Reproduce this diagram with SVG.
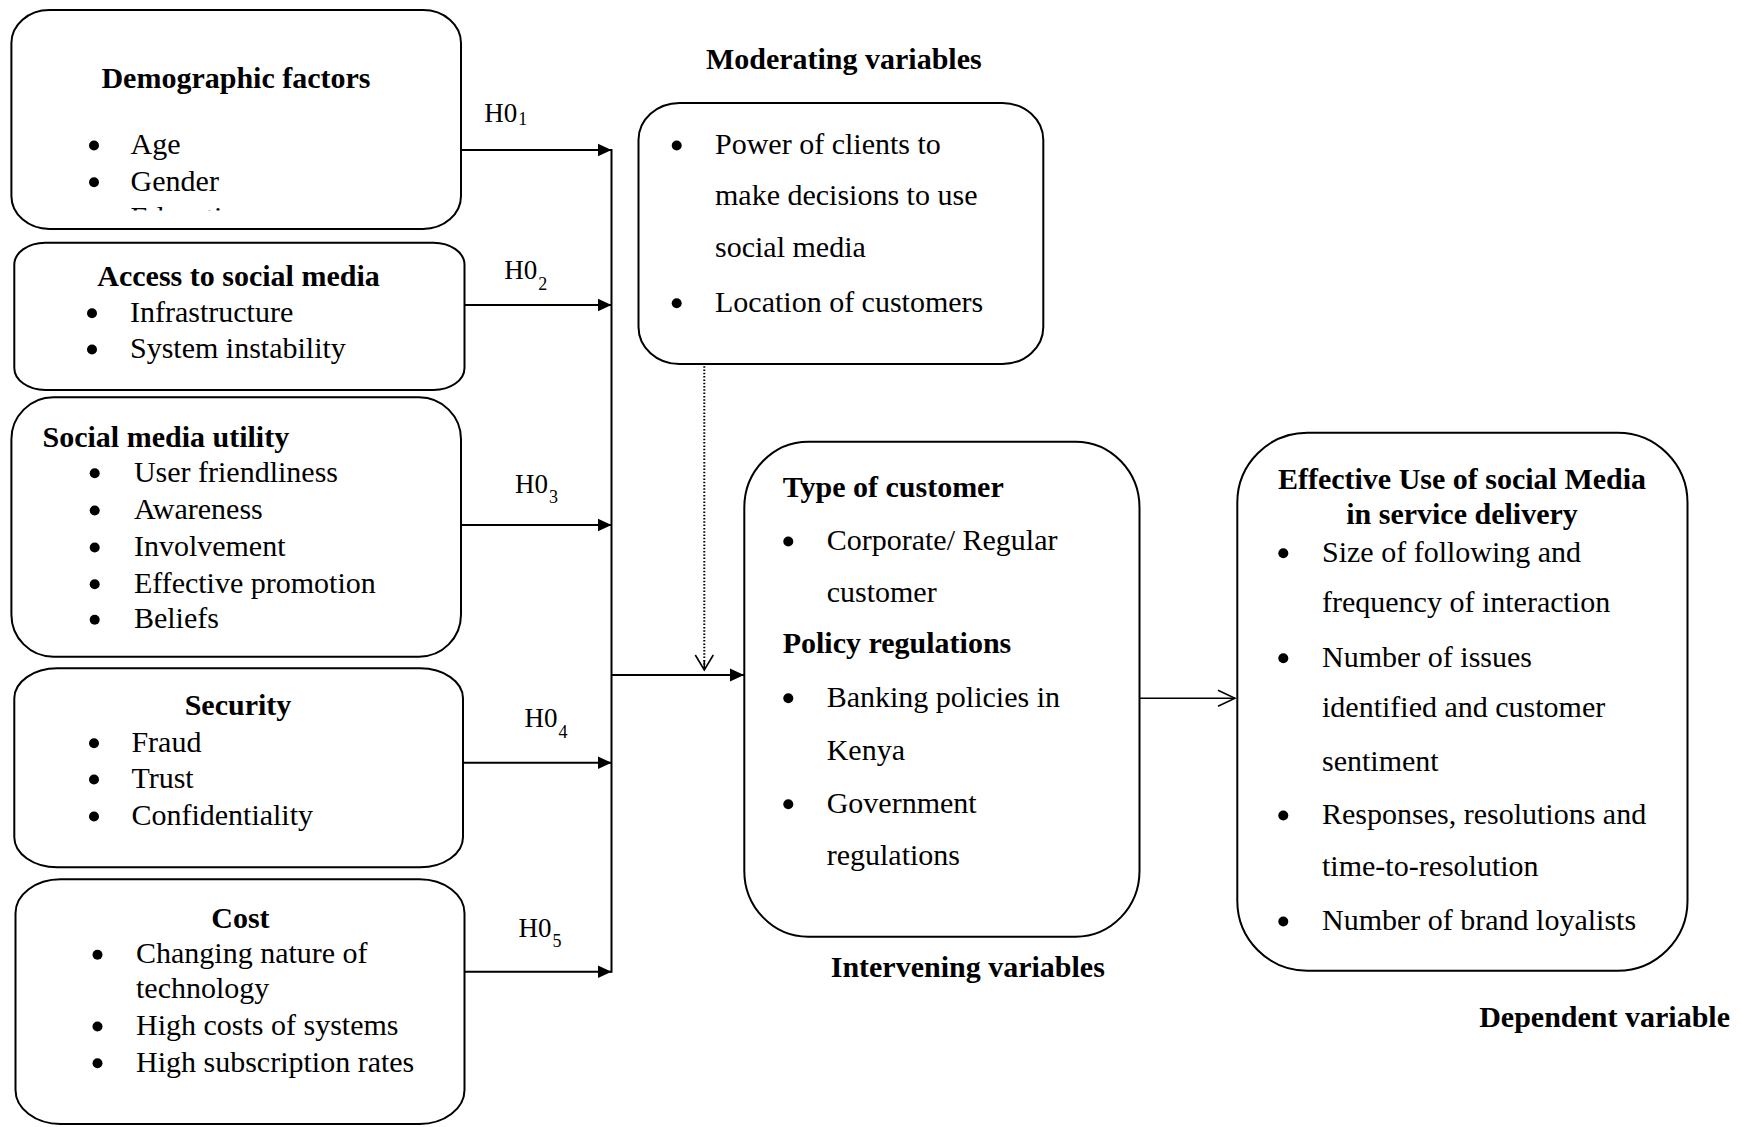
<svg xmlns="http://www.w3.org/2000/svg" width="1745" height="1127" viewBox="0 0 1745 1127">
<style>
  .box { fill: #fff; stroke: #000; stroke-width: 2; }
  .t { font-family: "Liberation Serif", "Times New Roman", serif; font-size: 30px; fill: #000; }
  .b { font-weight: bold; }
  .m { text-anchor: middle; }
  .e { text-anchor: end; }
  .h { font-family: "Liberation Serif", "Times New Roman", serif; font-size: 27px; fill: #000; }
  .s { font-size: 18px; }
  .dot { fill: #000; }
  .ln { fill: none; stroke: #000; stroke-width: 2; }
  .thin { fill: none; stroke: #000; stroke-width: 1.5; }
  .dotted { fill: none; stroke: #000; stroke-width: 2; stroke-dasharray: 1.5 1.8; }
</style>
<defs>
  <marker id="arrFill" markerUnits="userSpaceOnUse" markerWidth="16" markerHeight="16" refX="14" refY="7" orient="auto">
    <path d="M0,0.5 L14,7 L0,13.5 Z" fill="#000"/>
  </marker>
  <marker id="arrOpen" markerUnits="userSpaceOnUse" markerWidth="22" markerHeight="22" refX="18" refY="10" orient="auto">
    <path d="M1,2 L18,10 L1,18" fill="none" stroke="#000" stroke-width="1.5"/>
  </marker>
  <marker id="arrOpenV" markerUnits="userSpaceOnUse" markerWidth="22" markerHeight="24" refX="16" refY="10" orient="auto">
    <path d="M1,1 L16,10 L1,19" fill="none" stroke="#000" stroke-width="1.6"/>
  </marker>
  <clipPath id="clipDemo">
    <rect x="0" y="0" width="470" height="210.5"/>
  </clipPath>
</defs>
<rect width="1745" height="1127" fill="#fff"/>

<g id="connectors">
  <path class="ln" d="M461,150 H611.5" marker-end="url(#arrFill)"/>
  <path class="ln" d="M464.5,305 H611.5" marker-end="url(#arrFill)"/>
  <path class="ln" d="M461,525 H611.5" marker-end="url(#arrFill)"/>
  <path class="ln" d="M463,762.7 H611.5" marker-end="url(#arrFill)"/>
  <path class="ln" d="M464.5,971.7 H611.5" marker-end="url(#arrFill)"/>
  <path class="ln" d="M611.5,149 V972.7"/>
  <path class="ln" d="M611.5,675 H744" marker-end="url(#arrFill)"/>
  <path class="dotted" d="M704.3,353 V668"/>
  <path class="thin" d="M704.3,660 V670" marker-end="url(#arrOpenV)" stroke="none"/>
  <path class="thin" d="M1139.5,698.3 H1235" marker-end="url(#arrOpen)"/>
  <g id="hyp-labels">
    <text class="h" x="484.3" y="121.7">H0<tspan class="s" dx="1" y="124.5">1</tspan></text>
    <text class="h" x="504.3" y="279.3">H0<tspan class="s" dx="1" y="290">2</tspan></text>
    <text class="h" x="515" y="493.3">H0<tspan class="s" dx="1" y="503.3">3</tspan></text>
    <text class="h" x="524.5" y="727.3">H0<tspan class="s" dx="1" y="738.3">4</tspan></text>
    <text class="h" x="518.4" y="936.7">H0<tspan class="s" dx="1" y="946.7">5</tspan></text>
  </g>
</g>

<g id="demographic">
  <rect class="box" x="11.4" y="10" width="449.6" height="219" rx="38" ry="33"/>
  <text class="t b m" x="236" y="87.7">Demographic factors</text>
  <circle class="dot" cx="94" cy="145.5" r="5"/>
  <text class="t" x="130.6" y="154">Age</text>
  <circle class="dot" cx="94" cy="182.2" r="5"/>
  <text class="t" x="130.6" y="190.7">Gender</text>
  <g clip-path="url(#clipDemo)">
    <text class="t" x="130.6" y="227.3">Education</text>
  </g>
</g>

<g id="access">
  <rect class="box" x="14.3" y="242.7" width="450.2" height="147.3" rx="31" ry="22"/>
  <text class="t b m" x="238.5" y="286">Access to social media</text>
  <circle class="dot" cx="92" cy="313.2" r="5"/>
  <text class="t" x="130" y="321.7">Infrastructure</text>
  <circle class="dot" cx="92" cy="349.5" r="5"/>
  <text class="t" x="130" y="358">System instability</text>
</g>

<g id="utility">
  <rect class="box" x="11.4" y="397.3" width="449.6" height="259.4" rx="42" ry="42"/>
  <text class="t b" x="42.5" y="446.7">Social media utility</text>
  <circle class="dot" cx="94.7" cy="473.2" r="5"/>
  <text class="t" x="133.9" y="481.7">User friendliness</text>
  <circle class="dot" cx="94.7" cy="510.5" r="5"/>
  <text class="t" x="133.9" y="519">Awareness</text>
  <circle class="dot" cx="94.7" cy="547.5" r="5"/>
  <text class="t" x="133.9" y="556">Involvement</text>
  <circle class="dot" cx="94.7" cy="584.2" r="5"/>
  <text class="t" x="133.9" y="592.7">Effective promotion</text>
  <circle class="dot" cx="94.7" cy="619.8" r="5"/>
  <text class="t" x="133.9" y="628.3">Beliefs</text>
</g>

<g id="security">
  <rect class="box" x="14.3" y="668.3" width="448.7" height="199" rx="43" ry="30"/>
  <text class="t b m" x="238" y="715">Security</text>
  <circle class="dot" cx="94" cy="743.2" r="5"/>
  <text class="t" x="131.4" y="751.7">Fraud</text>
  <circle class="dot" cx="94" cy="779.5" r="5"/>
  <text class="t" x="131.4" y="788">Trust</text>
  <circle class="dot" cx="94" cy="816.5" r="5"/>
  <text class="t" x="131.4" y="825">Confidentiality</text>
</g>

<g id="cost">
  <rect class="box" x="15.5" y="879.3" width="449" height="244.7" rx="45" ry="34"/>
  <text class="t b m" x="240.4" y="928.3">Cost</text>
  <circle class="dot" cx="97.5" cy="954.8" r="5"/>
  <text class="t" x="136" y="963.3">Changing nature of</text>
  <text class="t" x="136" y="998.3">technology</text>
  <circle class="dot" cx="97.5" cy="1026.5" r="5"/>
  <text class="t" x="136" y="1035">High costs of systems</text>
  <circle class="dot" cx="97.5" cy="1063.2" r="5"/>
  <text class="t" x="136" y="1071.7">High subscription rates</text>
</g>

<g id="moderating">
  <text class="t b m" x="843.8" y="69.3">Moderating variables</text>
  <rect class="box" x="638.5" y="103" width="404.8" height="261" rx="41" ry="37"/>
  <circle class="dot" cx="676.7" cy="145.5" r="5"/>
  <text class="t" x="715" y="154">Power of clients to</text>
  <text class="t" x="715" y="205">make decisions to use</text>
  <text class="t" x="715" y="257.3">social media</text>
  <circle class="dot" cx="676.7" cy="303.2" r="5"/>
  <text class="t" x="715" y="311.7">Location of customers</text>
</g>

<g id="intervening">
  <rect class="box" x="744.3" y="441.7" width="395.2" height="495" rx="64" ry="66"/>
  <text class="t b" x="782.7" y="497.3">Type of customer</text>
  <circle class="dot" cx="788.3" cy="541.5" r="5"/>
  <text class="t" x="826.7" y="550">Corporate/ Regular</text>
  <text class="t" x="826.7" y="601.7">customer</text>
  <text class="t b" x="782.7" y="653.3">Policy regulations</text>
  <circle class="dot" cx="788.3" cy="698.2" r="5"/>
  <text class="t" x="826.7" y="706.7">Banking policies in</text>
  <text class="t" x="826.7" y="760">Kenya</text>
  <circle class="dot" cx="788.3" cy="804.2" r="5"/>
  <text class="t" x="826.7" y="812.7">Government</text>
  <text class="t" x="826.7" y="865">regulations</text>
  <text class="t b m" x="967.8" y="976.7">Intervening variables</text>
</g>

<g id="dependent">
  <rect class="box" x="1237.3" y="432.7" width="450.2" height="538" rx="70" ry="70"/>
  <text class="t b m" x="1462" y="489">Effective Use of social Media</text>
  <text class="t b m" x="1462" y="524">in service delivery</text>
  <circle class="dot" cx="1283.3" cy="553.2" r="5"/>
  <text class="t" x="1322" y="561.7">Size of following and</text>
  <text class="t" x="1322" y="612.3">frequency of interaction</text>
  <circle class="dot" cx="1283.3" cy="658.2" r="5"/>
  <text class="t" x="1322" y="666.7">Number of issues</text>
  <text class="t" x="1322" y="716.7">identified and customer</text>
  <text class="t" x="1322" y="770.7">sentiment</text>
  <circle class="dot" cx="1283.3" cy="815.5" r="5"/>
  <text class="t" x="1322" y="824">Responses, resolutions and</text>
  <text class="t" x="1322" y="876">time-to-resolution</text>
  <circle class="dot" cx="1283.3" cy="921.5" r="5"/>
  <text class="t" x="1322" y="930">Number of brand loyalists</text>
  <text class="t b e" x="1730" y="1026.7">Dependent variable</text>
</g>
</svg>
